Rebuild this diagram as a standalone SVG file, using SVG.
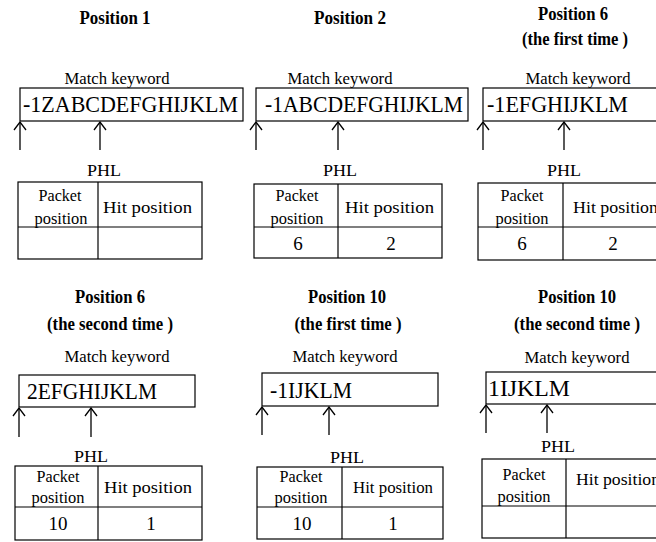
<svg xmlns="http://www.w3.org/2000/svg" width="656" height="542" viewBox="0 0 656 542" font-family="Liberation Serif, Times New Roman, serif">
<style>
text{font-family:'Liberation Serif','Times New Roman',serif;fill:#000}
.t{font-weight:bold;font-size:18px;text-anchor:middle}
.mk{font-size:17px;text-anchor:middle}
.kw{font-size:23px}
.phl{font-size:17px;text-anchor:middle}
.c{font-size:17px;text-anchor:middle}
.v{font-size:19px;text-anchor:middle}
.hp{font-size:17px}
.b{stroke:#000;stroke-width:1.2;fill:none}
.ar{stroke:#000;stroke-width:1.3;marker-end:url(#ah)}
</style>
<defs>
<marker id="ah" viewBox="0 0 10 14" refX="9" refY="7" markerWidth="10" markerHeight="14" markerUnits="userSpaceOnUse" orient="auto">
<path d="M1,1 L9,7 L1,13" fill="none" stroke="#000" stroke-width="1.3"/>
</marker>
</defs>
<rect x="0" y="0" width="656" height="542" fill="#fff"/>

<g id="p1">
<text class="t" x="115" y="24" textLength="71" lengthAdjust="spacingAndGlyphs">Position 1</text>
<text class="mk" x="117" y="84" textLength="105" lengthAdjust="spacingAndGlyphs">Match keyword</text>
<rect class="b" x="20" y="88" width="223" height="33"/>
<text class="kw" x="23" y="112" textLength="215" lengthAdjust="spacingAndGlyphs">-1ZABCDEFGHIJKLM</text>
<text class="phl" x="104" y="176" textLength="34" lengthAdjust="spacingAndGlyphs">PHL</text>
<rect class="b" x="18" y="182" width="184" height="77"/>
<line class="b" x1="18" y1="227" x2="202" y2="227"/>
<line class="b" x1="98" y1="182" x2="98" y2="259"/>
<text class="c" x="60" y="201" textLength="43" lengthAdjust="spacingAndGlyphs">Packet</text>
<text class="c" x="61" y="224" textLength="53" lengthAdjust="spacingAndGlyphs">position</text>
<text class="hp" x="103" y="213" textLength="89" lengthAdjust="spacingAndGlyphs">Hit position</text>
</g>

<g id="p2">
<text class="t" x="350" y="24" textLength="72" lengthAdjust="spacingAndGlyphs">Position 2</text>
<text class="mk" x="340" y="84" textLength="105" lengthAdjust="spacingAndGlyphs">Match keyword</text>
<rect class="b" x="256" y="88" width="212" height="33"/>
<text class="kw" x="265" y="112" textLength="198" lengthAdjust="spacingAndGlyphs">-1ABCDEFGHIJKLM</text>
<text class="phl" x="340" y="176" textLength="34" lengthAdjust="spacingAndGlyphs">PHL</text>
<rect class="b" x="254" y="184" width="188" height="74"/>
<line class="b" x1="254" y1="227" x2="442" y2="227"/>
<line class="b" x1="338" y1="184" x2="338" y2="258"/>
<text class="c" x="297" y="201" textLength="43" lengthAdjust="spacingAndGlyphs">Packet</text>
<text class="c" x="297" y="224" textLength="53" lengthAdjust="spacingAndGlyphs">position</text>
<text class="hp" x="345" y="213" textLength="89" lengthAdjust="spacingAndGlyphs">Hit position</text>
<text class="v" x="298" y="250">6</text>
<text class="v" x="391" y="250">2</text>
</g>

<g id="p3">
<text class="t" x="573" y="20" textLength="70" lengthAdjust="spacingAndGlyphs">Position 6</text>
<text class="t" x="575" y="45" textLength="106" lengthAdjust="spacingAndGlyphs">(the first time )</text>
<text class="mk" x="578" y="84" textLength="105" lengthAdjust="spacingAndGlyphs">Match keyword</text>
<rect class="b" x="483" y="88" width="190" height="33"/>
<text class="kw" x="487" y="112" textLength="141" lengthAdjust="spacingAndGlyphs">-1EFGHIJKLM</text>
<text class="phl" x="564" y="176" textLength="34" lengthAdjust="spacingAndGlyphs">PHL</text>
<rect class="b" x="478" y="183" width="190" height="77"/>
<line class="b" x1="478" y1="227" x2="668" y2="227"/>
<line class="b" x1="563" y1="183" x2="563" y2="260"/>
<text class="c" x="522" y="201" textLength="43" lengthAdjust="spacingAndGlyphs">Packet</text>
<text class="c" x="522" y="224" textLength="53" lengthAdjust="spacingAndGlyphs">position</text>
<text class="hp" x="573" y="213" textLength="85" lengthAdjust="spacingAndGlyphs">Hit position</text>
<text class="v" x="522" y="250">6</text>
<text class="v" x="613" y="250">2</text>
</g>

<g id="p4">
<text class="t" x="110" y="303" textLength="70" lengthAdjust="spacingAndGlyphs">Position 6</text>
<text class="t" x="110" y="330" textLength="126" lengthAdjust="spacingAndGlyphs">(the second time )</text>
<text class="mk" x="117" y="362" textLength="105" lengthAdjust="spacingAndGlyphs">Match keyword</text>
<rect class="b" x="19" y="375" width="176" height="32"/>
<text class="kw" x="27" y="399" textLength="130" lengthAdjust="spacingAndGlyphs">2EFGHIJKLM</text>
<text class="phl" x="91" y="462" textLength="34" lengthAdjust="spacingAndGlyphs">PHL</text>
<rect class="b" x="15" y="466" width="187" height="74"/>
<line class="b" x1="15" y1="507" x2="202" y2="507"/>
<line class="b" x1="98" y1="466" x2="98" y2="540"/>
<text class="c" x="58" y="482" textLength="43" lengthAdjust="spacingAndGlyphs">Packet</text>
<text class="c" x="58" y="503" textLength="53" lengthAdjust="spacingAndGlyphs">position</text>
<text class="hp" x="104" y="493" textLength="88" lengthAdjust="spacingAndGlyphs">Hit position</text>
<text class="v" x="58" y="530">10</text>
<text class="v" x="151" y="530">1</text>
</g>

<g id="p5">
<text class="t" x="347" y="303" textLength="78" lengthAdjust="spacingAndGlyphs">Position 10</text>
<text class="t" x="348" y="330" textLength="107" lengthAdjust="spacingAndGlyphs">(the first time )</text>
<text class="mk" x="345" y="362" textLength="105" lengthAdjust="spacingAndGlyphs">Match keyword</text>
<rect class="b" x="262" y="373" width="176" height="33"/>
<text class="kw" x="270" y="398" textLength="82" lengthAdjust="spacingAndGlyphs">-1IJKLM</text>
<text class="phl" x="347" y="463" textLength="34" lengthAdjust="spacingAndGlyphs">PHL</text>
<rect class="b" x="257" y="467" width="186" height="72"/>
<line class="b" x1="257" y1="507" x2="443" y2="507"/>
<line class="b" x1="342" y1="467" x2="342" y2="539"/>
<text class="c" x="301" y="482" textLength="43" lengthAdjust="spacingAndGlyphs">Packet</text>
<text class="c" x="301" y="503" textLength="53" lengthAdjust="spacingAndGlyphs">position</text>
<text class="hp" x="353" y="493" textLength="80" lengthAdjust="spacingAndGlyphs">Hit position</text>
<text class="v" x="302" y="530">10</text>
<text class="v" x="393" y="530">1</text>
</g>

<g id="p6">
<text class="t" x="577" y="303" textLength="78" lengthAdjust="spacingAndGlyphs">Position 10</text>
<text class="t" x="577" y="330" textLength="126" lengthAdjust="spacingAndGlyphs">(the second time )</text>
<text class="mk" x="577" y="363" textLength="105" lengthAdjust="spacingAndGlyphs">Match keyword</text>
<rect class="b" x="486" y="372" width="190" height="32"/>
<text class="kw" x="488" y="396" textLength="82" lengthAdjust="spacingAndGlyphs">1IJKLM</text>
<text class="phl" x="558" y="452" textLength="34" lengthAdjust="spacingAndGlyphs">PHL</text>
<rect class="b" x="482" y="459" width="190" height="79"/>
<line class="b" x1="482" y1="506" x2="672" y2="506"/>
<line class="b" x1="566" y1="459" x2="566" y2="538"/>
<text class="c" x="524" y="480" textLength="43" lengthAdjust="spacingAndGlyphs">Packet</text>
<text class="c" x="524" y="502" textLength="53" lengthAdjust="spacingAndGlyphs">position</text>
<text class="hp" x="576" y="485" textLength="84" lengthAdjust="spacingAndGlyphs">Hit position</text>
</g>

<g id="connectors">
<line class="ar" x1="20" y1="150" x2="20" y2="122"/>
<line class="ar" x1="100" y1="150" x2="100" y2="122"/>
<line class="ar" x1="256" y1="150" x2="256" y2="122"/>
<line class="ar" x1="338" y1="150" x2="338" y2="122"/>
<line class="ar" x1="483" y1="150" x2="483" y2="122"/>
<line class="ar" x1="564" y1="150" x2="564" y2="122"/>
<line class="ar" x1="19" y1="437" x2="19" y2="408"/>
<line class="ar" x1="91" y1="437" x2="91" y2="408"/>
<line class="ar" x1="262" y1="435" x2="262" y2="407"/>
<line class="ar" x1="329" y1="435" x2="329" y2="407"/>
<line class="ar" x1="486" y1="433" x2="486" y2="405"/>
<line class="ar" x1="547" y1="433" x2="547" y2="405"/>
</g>
</svg>
